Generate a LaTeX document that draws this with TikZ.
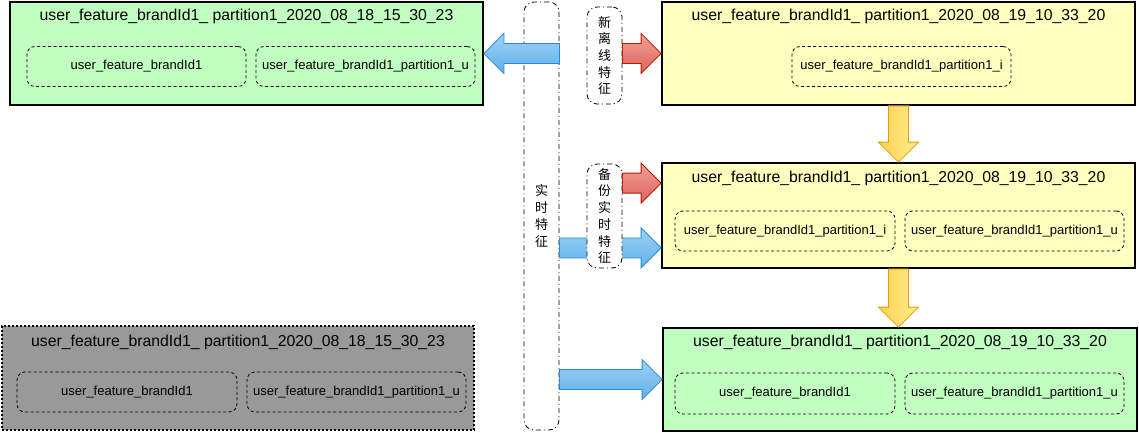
\documentclass[tikz,border=0pt]{standalone}
\usepackage{fontspec}
\setmainfont{Liberation Sans}
\newfontfamily\cjk{Noto Sans CJK SC}
\usetikzlibrary{calc}
\definecolor{boxgreen}{HTML}{C0FFC0}
\definecolor{boxyellow}{HTML}{FFFFC0}
\definecolor{boxgrey}{HTML}{999999}
\definecolor{bluedraw}{HTML}{2A8AD6}
\definecolor{bluetop}{HTML}{9DD2F5}
\definecolor{bluebot}{HTML}{5FB0E8}
\definecolor{reddraw}{HTML}{B81A00}
\definecolor{redtop}{HTML}{F5A099}
\definecolor{redbot}{HTML}{D9635A}
\definecolor{yeldraw}{HTML}{E09C00}
\definecolor{yelleft}{HTML}{FFD258}
\definecolor{yelright}{HTML}{FFEC8C}
\tikzset{
  mainbox/.style={draw=black, line width=1.8pt, inner sep=0pt, minimum width=473pt, minimum height=103pt},
  greybox/.style={draw=black, line width=2pt, dash pattern=on 2pt off 2pt, fill=boxgrey, inner sep=0pt, minimum width=472pt, minimum height=104pt},
  inbox/.style={draw=black, line width=0.8pt, dash pattern=on 3pt off 2.5pt, rounded corners=8pt, inner sep=0pt, minimum width=219pt, minimum height=40pt, font=\fontsize{13}{15}\selectfont},
  titletext/.style={font=\fontsize{15.8}{18}\selectfont, inner sep=0pt},
  tallbox/.style={draw=black, line width=0.8pt, dash pattern=on 5pt off 3pt on 1pt off 3pt, rounded corners=10pt, fill=white, inner sep=0pt, minimum width=35pt, font=\cjk\fontsize{13}{16.7}\selectfont, align=center},
  bluearrow/.style={draw=bluedraw, line width=0.8pt, top color=bluetop, bottom color=bluebot},
  redarrow/.style={draw=reddraw, line width=0.8pt, top color=redtop, bottom color=redbot},
  yelarrow/.style={draw=yeldraw, line width=0.8pt, left color=yelleft, right color=yelright},
}
% block arrow: style, from, to
\newcommand{\blockarrow}[3]{%
  \coordinate (baH) at ($(#3)!20pt!(#2)$);
  \path[#1] ($(#2)!10pt!90:(#3)$) -- ($(baH)!10pt!-90:(#2)$) -- ($(baH)!20pt!-90:(#2)$) -- (#3)
    -- ($(baH)!20pt!90:(#2)$) -- ($(baH)!10pt!90:(#2)$) -- ($(#2)!10pt!-90:(#3)$) -- cycle;}
\begin{document}
\begin{tikzpicture}[x=1pt,y=-1pt]
\useasboundingbox (0,0) rectangle (1139,433);
\fill[white] (0,0) rectangle (1139,433);

% tall realtime box
\node[tallbox, minimum height=428pt] (rt) at (541.5,216) {实\\时\\特\\征};

% top-left green
\node[mainbox, fill=boxgreen] (g1) at (246.5,53.5) {};
\node[titletext] (g1t) at (246.5,16.5) {user\_feature\_brandId1\_ partition1\_2020\_08\_18\_15\_30\_23};
\node[inbox] (g1a) at (136.5,66.5) {user\_feature\_brandId1};
\node[inbox] (g1b) at (365.5,66.5) {user\_feature\_brandId1\_partition1\_u};

% top-right yellow
\node[mainbox, fill=boxyellow] (y1) at (898.5,53.5) {};
\node[titletext] (y1t) at (898.5,16.5) {user\_feature\_brandId1\_ partition1\_2020\_08\_19\_10\_33\_20};
\node[inbox] (y1a) at (901.5,66.5) {user\_feature\_brandId1\_partition1\_i};

% middle yellow
\node[mainbox, fill=boxyellow, minimum height=105pt] (y2) at (898.5,215.5) {};
\node[titletext] (y2t) at (898.5,178) {user\_feature\_brandId1\_ partition1\_2020\_08\_19\_10\_33\_20};
\node[inbox, minimum width=220pt] (y2a) at (785,231) {user\_feature\_brandId1\_partition1\_i};
\node[inbox] (y2b) at (1014.5,231) {user\_feature\_brandId1\_partition1\_u};

% bottom green
\node[mainbox, fill=boxgreen, minimum width=474pt] (g2) at (900,379.5) {};
\node[titletext] (g2t) at (900,342.5) {user\_feature\_brandId1\_ partition1\_2020\_08\_19\_10\_33\_20};
\node[inbox, minimum width=220pt, minimum height=41pt] (g2a) at (785,393.5) {user\_feature\_brandId1};
\node[inbox, minimum height=41pt] (g2b) at (1014.5,393.5) {user\_feature\_brandId1\_partition1\_u};

% bottom-left grey
\node[greybox] (gr) at (238,378) {};
\node[titletext] (grt) at (238,342) {user\_feature\_brandId1\_ partition1\_2020\_08\_18\_15\_30\_23};
\node[inbox, minimum width=220pt] (gra) at (127,392) {user\_feature\_brandId1};
\node[inbox] (grb) at (356.5,392) {user\_feature\_brandId1\_partition1\_u};

% new offline feature box
\node[tallbox, minimum height=97pt] (off) at (604.5,55.5) {新\\离\\线\\特\\征};

% arrows
\coordinate (a1s) at (g1.east -| rt.east);
\blockarrow{bluearrow}{a1s}{g1.east}
\coordinate (r1s) at (y1.west -| off.east);
\blockarrow{redarrow}{r1s}{y1.west}
\coordinate (b2e) at ($(y2.south west)+(0,-21)$);
\coordinate (b2s) at (b2e -| rt.east);
\blockarrow{bluearrow}{b2s}{b2e}
\coordinate (b3s) at (g2.west -| rt.east);
\blockarrow{bluearrow}{b3s}{g2.west}
\blockarrow{yelarrow}{y1.south}{y2.north}
\coordinate (yb2e) at (y2.south |- g2.north);
\blockarrow{yelarrow}{y2.south}{yb2e}

% backup realtime feature box (covers middle blue arrow)
\node[tallbox, minimum height=104pt] (bak) at (604.5,216) {备\\份\\实\\时\\特\\征};
\coordinate (r2e) at ($(y2.north west)+(0,21)$);
\coordinate (r2s) at (r2e -| bak.east);
\blockarrow{redarrow}{r2s}{r2e}
\end{tikzpicture}
\end{document}
